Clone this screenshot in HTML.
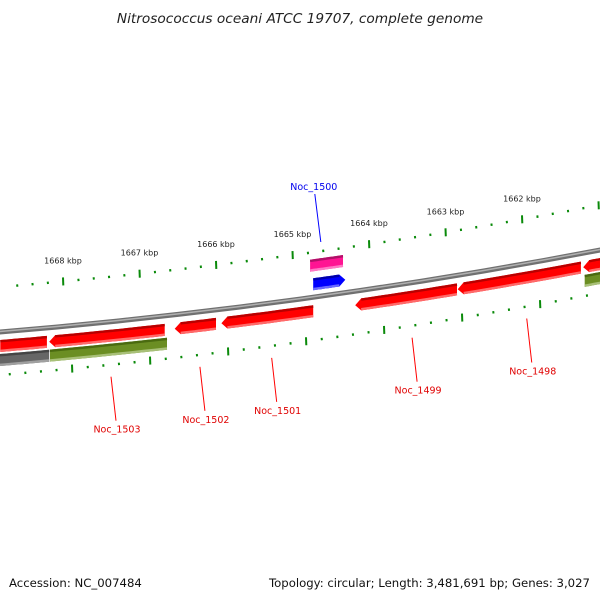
<!DOCTYPE html>
<html><head><meta charset="utf-8"><style>
html,body{margin:0;padding:0;background:#fff;}
svg{display:block;font-family:"DejaVu Sans","Liberation Sans",sans-serif;}
</style></head><body>
<svg id="c" width="600" height="600" viewBox="0 0 600 600">
<text x="300" y="23" text-anchor="middle" font-size="13.7" font-style="italic" fill="#222">Nitrosococcus oceani ATCC 19707, complete genome</text>
<text x="9" y="587" font-size="11.7" fill="#111">Accession: NC_007484</text>
<text x="590" y="587" text-anchor="end" font-size="11.7" fill="#111">Topology: circular; Length: 3,481,691 bp; Genes: 3,027</text>
<g id="layer"></g>
</svg>
<script>
const tickKbp = [1668, 1667, 1666, 1665, 1664, 1663, 1662];
const geneNames = ["g0","g1","Noc_1502","Noc_1501","Noc_1499","Noc_1498","g6"];
const geneStart = [1668.82, 1668.18, 1666.54, 1665.93, 1664.18, 1662.84, 1661.20];
const geneEnd = [1668.21, 1666.67, 1666.00, 1664.73, 1662.85, 1661.23, 1660.90];
const geneDir = [0, -1, -1, -1, -1, -1, -1];
const row2Start = [1668.90, 1668.17, 1661.18];
const row2End = [1668.18, 1666.64, 1660.90];
const row2Color = ["grey", "green", "green"];
const upStart = [1664.77, 1664.73];
const upEnd = [1664.34, 1664.31];
const upColor = ["pink", "blue"];
const upDir = [0, 1];
const labelNames = ["Noc_1503", "Noc_1502", "Noc_1501", "Noc_1499", "Noc_1498"];
const labelKbp = [1667.5, 1666.36, 1665.44, 1663.64, 1662.17];
const blueLabelKbp = [1664.63];

const COLORS = {
  red: ["#ff0000", "#b80000", "#ff6a6a"],
  green: ["#6b8e23", "#4a6a10", "#a8c078"],
  grey: ["#666666", "#444444", "#a0a0a0"],
  pink: ["#ff1493", "#b01068", "#ff78c4"],
  blue: ["#0000ff", "#0000a8", "#6a6aff"]
};
const NS = "http://www.w3.org/2000/svg";
const layer = document.getElementById("layer");
function X(k){ return 63 + (1668 - k) * 76.5; }
function Xb(k){ return 72 + (1668 - k) * 78; }
function Y(x){ return 332 - 0.0829 * x - 0.0000895 * x * x; }
function mk(t, attrs){ const e = document.createElementNS(NS, t); for (const k in attrs) e.setAttribute(k, attrs[k]); layer.appendChild(e); return e; }
function fmt(pts){ return pts.map(p => p[0].toFixed(1) + "," + p[1].toFixed(1)).join(" "); }
function edge(a, b, off){ const pts = []; const n = 10; for (let i = 0; i <= n; i++){ const x = a + (b - a) * i / n; pts.push([x, Y(x) + off]); } return pts; }
function drawGene(x1, x2, off, h, dir, col, name){
  const a = Math.min(x1, x2), b = Math.max(x1, x2), tip = 6;
  let aa = a, bb = b;
  if (dir < 0) aa = a + tip;
  if (dir > 0) bb = b - tip;
  const top = edge(aa, bb, off - h / 2), bot = edge(aa, bb, off + h / 2).reverse();
  let pts = top.slice();
  if (dir > 0) pts.push([b, Y(b) + off]);
  pts = pts.concat(bot);
  if (dir < 0) pts.push([a, Y(a) + off]);
  const c = COLORS[col];
  const g = mk("polygon", {points: fmt(pts), fill: c[0]});
  
  
  const t = mk("polyline", {points: fmt(edge(aa, bb, off - h / 2 + 1.2)), fill: "none", stroke: c[1], "stroke-width": 2.4});
  
  
  const bl = mk("polyline", {points: fmt(edge(aa, bb, off + h / 2 - 1.2)), fill: "none", stroke: c[2], "stroke-width": 2.4});
  
  
}
// backbone
const bb1 = mk("polyline", {points: fmt(edge(-5, 605, 0)), fill: "none", stroke: "#707070", "stroke-width": 5});


const bb2 = mk("polyline", {points: fmt(edge(-5, 605, -0.5)), fill: "none", stroke: "#b0b0b0", "stroke-width": 1.5});


// ticks
const kMax = tickKbp[0] + 1, kMin = tickKbp[tickKbp.length - 1] - 1;
for (let s = 0; s <= Math.round((kMax - kMin) / 0.2); s++){
  const k = kMax - s * 0.2;
  const major = Math.abs(k - Math.round(k)) < 1e-6;
  [[X, -45, 'top'], [Xb, 43, 'bottom']].forEach(([fx, off, nm]) => {
    const x = fx(k); if (x < 2 || x > 600) return;
    const y = Y(x) + off;
    const t = mk("line", {x1: x, x2: x + 0.3, y1: y - (major ? 4 : 1.2), y2: y + (major ? 4 : 1.2), stroke: "#0a8a0a", "stroke-width": 2});
    
    
  });
}
for (let i = 0; i < tickKbp.length; i++){
  const lx = X(tickKbp[i]);
  const l = mk("text", {x: lx, y: Y(lx) - 63, "text-anchor": "middle", "font-size": 8, fill: "#222"});
  l.textContent = tickKbp[i] + " kbp";
  
  
}
for (let i = 0; i < geneStart.length; i++) drawGene(X(geneStart[i]), X(geneEnd[i]), 14, 12, geneDir[i], "red", 'gene-' + geneNames[i]);
for (let i = 0; i < row2Start.length; i++) drawGene(X(row2Start[i]), X(row2End[i]), 28, 12, 0, row2Color[i], 'second-row-feature');
for (let i = 0; i < upStart.length; i++) drawGene(X(upStart[i]), X(upEnd[i]), i === 0 ? -32 : -13, 12, upDir[i], upColor[i], i === 0 ? 'pink-feature' : 'gene-noc-1500');
// labels
for (let i = 0; i < labelNames.length; i++){
  const x = Xb(labelKbp[i]);
  const yb = Y(x);
  const ln = mk("line", {x1: x, y1: yb + 55, x2: x + 5, y2: yb + 99, stroke: "#ff0000", "stroke-width": 1});
  
  
  const t = mk("text", {x: x + 6, y: yb + 111, "text-anchor": "middle", "font-size": 9.5, fill: "#e00000"});
  t.textContent = labelNames[i];
  
  
}
{
  const x = X(blueLabelKbp[0]);
  const ln = mk("line", {x1: x - 6, y1: 194, x2: x, y2: 242, stroke: "#0000ff", "stroke-width": 1});
  
  
  const t = mk("text", {x: x - 7, y: 190, "text-anchor": "middle", "font-size": 9.5, fill: "#0000ee"});
  t.textContent = "Noc_1500";
  
  
}
</script>
</body></html>
